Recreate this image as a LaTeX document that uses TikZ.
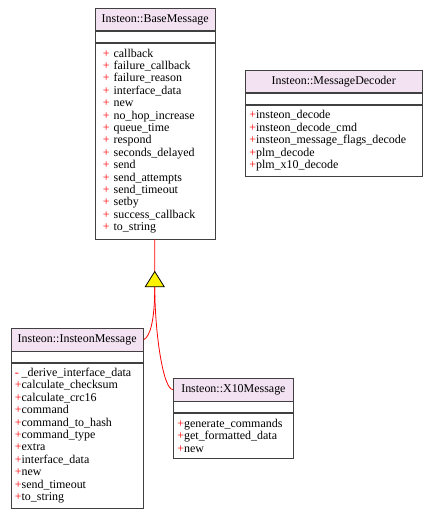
\documentclass[tikz,border=0pt]{standalone}
\usepackage{fontspec}
\setmainfont{Liberation Serif}
\usepackage{tikz}
\usetikzlibrary{positioning}
\definecolor{titleFill}{RGB}{242,226,242}
\definecolor{frameGray}{RGB}{64,64,64}
\newcommand{\pubItem}[1]{\textcolor{red}{+}#1}
\newcommand{\pubItemSp}[1]{\hspace*{4bp}\textcolor{red}{+}\ #1}
\newcommand{\privItem}[1]{\rlap{\textcolor{red}{-}}\phantom{+}#1}
\newcommand{\umlClass}[7]{%%
  %% #1 name, #2 left, #3 top, #4 width, #5 body height, #6 title, #7 members
  \pgfmathsetmacro{\bodyWidth}{#4-8}
  %% The title compartment.
  \node[classTitle,minimum width=#4bp,anchor=north west] (#1Title) at (#2,#3) {#6};
  %% The empty attribute compartment.
  \node[classBlank,minimum width=#4bp,anchor=north] (#1Blank) at (#1Title.south) {};
  %% The method compartment.
  \node[classBody,minimum width=#4bp,minimum height=#5bp,text width=\bodyWidth bp,anchor=north]
    (#1Body) at (#1Blank.south) {#7};
}

\begin{document}
\begin{tikzpicture}[%%
  x=1bp,y=-1bp,%%
  classTitle/.style={draw=frameGray,fill=titleFill,line width=0.8bp,minimum height=22.5bp,inner sep=2bp,font=\fontsize{12}{12.45}\selectfont},%%
  classBlank/.style={draw=frameGray,fill=white,line width=0.8bp,minimum height=10.5bp,inner sep=0pt},%%
  classBody/.style={draw=frameGray,fill=white,line width=0.8bp,align=left,inner xsep=4bp,inner ysep=2bp,font=\fontsize{12}{12.45}\selectfont},%%
  inhLine/.style={red,line width=0.8bp},%%
  inhHead/.style={draw=black,fill=yellow,line width=0.8bp},%%
]
%%
%%
\useasboundingbox[fill=white] (0,0) rectangle (432,514);
%% The base class.
\umlClass{base}{94.5}{8}{120.5}{196}{Insteon::BaseMessage}{%
  \pubItemSp{callback}\\ \pubItemSp{failure\_callback}\\ \pubItemSp{failure\_reason}\\
  \pubItemSp{interface\_data}\\ \pubItemSp{new}\\ \pubItemSp{no\_hop\_increase}\\
  \pubItemSp{queue\_time}\\ \pubItemSp{respond}\\ \pubItemSp{seconds\_delayed}\\
  \pubItemSp{send}\\ \pubItemSp{send\_attempts}\\ \pubItemSp{send\_timeout}\\
  \pubItemSp{setby}\\ \pubItemSp{success\_callback}\\ \pubItemSp{to\_string}}
%% The decoder.
\umlClass{decoder}{245}{70}{176.5}{71.5}{Insteon::MessageDecoder}{%
  \pubItem{insteon\_decode}\\ \pubItem{insteon\_decode\_cmd}\\
  \pubItem{insteon\_message\_flags\_decode}\\ \pubItem{plm\_decode}\\ \pubItem{plm\_x10\_decode}}
%% The subclasses.
\umlClass{insteon}{10.5}{328}{132.5}{145}{Insteon::InsteonMessage}{%
  \privItem{\_derive\_interface\_data}\\ \pubItem{calculate\_checksum}\\ \pubItem{calculate\_crc16}\\
  \pubItem{command}\\ \pubItem{command\_to\_hash}\\ \pubItem{command\_type}\\
  \pubItem{extra}\\ \pubItem{interface\_data}\\ \pubItem{new}\\
  \pubItem{send\_timeout}\\ \pubItem{to\_string}}
\umlClass{xten}{173}{378}{120}{45.5}{Insteon::X10Message}{%
  \pubItem{generate\_commands}\\ \pubItem{get\_formatted\_data}\\ \pubItem{new}}
%% The inheritance arrow.
\coordinate (triTop) at (154.75,271.5);
\coordinate (triFoot) at (154.75,286.8);
\draw[inhLine] (baseBody) -- (triTop);
\draw[inhLine] (triFoot) .. controls +(0,35) and +(6,-3) .. (insteonTitle.east);
\draw[inhLine] (triFoot) .. controls +(0,45) and +(-10,0) .. (xtenTitle.west);
\filldraw[inhHead] (triTop) -- ++(9.5,15.3) -- ++(-19,0) -- cycle;
\end{tikzpicture}
\end{document}
